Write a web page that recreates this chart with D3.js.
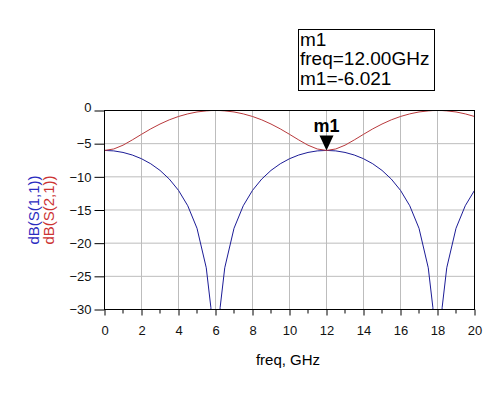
<!DOCTYPE html>
<html>
<head>
<meta charset="utf-8">
<script src="https://cdn.jsdelivr.net/npm/d3@7"></script>
<style>
  body { margin: 0; background: #fff; }
  svg { display: block; font-family: Arial, 'Liberation Sans', sans-serif; }
</style>
</head>
<body>
<script>
// frequency points, GHz
const freq = [0, 0.5, 1, 1.5, 2, 2.5, 3, 3.5, 4, 4.5, 5, 5.5, 5.75, 6, 6.25, 6.5, 7, 7.5, 8, 8.5, 9, 9.5, 10,
  10.5, 11, 11.5, 12, 12.5, 13, 13.5, 14, 14.5, 15, 15.5, 16, 16.5, 17, 17.5, 17.75, 18, 18.25, 18.5, 19, 19.5, 20]

// dB(S(1,1)) (the nulls drop well below the -30 floor)
const s11 = [-6.02, -6.09, -6.32, -6.71, -7.27, -8.03, -9.03, -10.33, -12.04, -14.36, -17.76, -23.71, -29.71, -45, -29.71,
  -23.71, -17.76, -14.36, -12.04, -10.33, -9.03, -8.03, -7.27, -6.71, -6.32, -6.09, -6.02, -6.09, -6.32, -6.71, -7.27,
  -8.03, -9.03, -10.33, -12.04, -14.36, -17.76, -23.71, -29.71, -45, -29.71, -23.71, -17.76, -14.36, -12.04]

// dB(S(2,1))
const s21 = [-6.02, -5.8, -5.23, -4.44, -3.59, -2.77, -2.04, -1.41, -0.9, -0.51, -0.22, -0.06, -0.01, 0, -0.01,
  -0.06, -0.22, -0.51, -0.9, -1.41, -2.04, -2.77, -3.59, -4.44, -5.23, -5.8, -6.02, -5.8, -5.23, -4.44, -3.59,
  -2.77, -2.04, -1.41, -0.9, -0.51, -0.22, -0.06, -0.01, 0, -0.01, -0.06, -0.22, -0.51, -0.9]

const xTicks = [0, 2, 4, 6, 8, 10, 12, 14, 16, 18, 20]
const xMinor = d3.range(1, 20, 2)
const yTicks = [0, -5, -10, -15, -20, -25, -30]

const marker = { name: 'm1', freq: 12, value: -6.021 }

const width = 500
const height = 394

const svg = d3.select('body').append('svg').attr('width', width).attr('height', height)

const x = d3.scaleLinear().domain([0, 20]).range([104.5, 474.5])
const y = d3.scaleLinear().domain([-30, 0]).range([309.5, 110.5])

// grid
svg.append('g')
	.selectAll('line')
	.data(xTicks.slice(1, -1))
	.enter()
	.append('line')
	.attr('x1', d => x(d)).attr('x2', d => x(d))
	.attr('y1', y(0)).attr('y2', y(-30))
	.attr('stroke', '#bdbdbd')
svg.append('g')
	.selectAll('line')
	.data(yTicks.slice(1, -1))
	.enter()
	.append('line')
	.attr('x1', x(0)).attr('x2', x(20))
	.attr('y1', d => y(d)).attr('y2', d => y(d))
	.attr('stroke', '#bdbdbd')

// curves, clipped to the plot box
svg.append('clipPath').attr('id', 'plot')
	.append('rect')
	.attr('x', x(0)).attr('y', y(0))
	.attr('width', x(20) - x(0)).attr('height', y(-30) - y(0))

const line = vals => d3.line()
	.x((d, i) => x(freq[i]))
	.y(d => y(d))(vals)

svg.append('path')
	.attr('d', line(s11))
	.attr('fill', 'none')
	.attr('stroke', '#1c1c96')
	.attr('clip-path', 'url(#plot)')
svg.append('path')
	.attr('d', line(s21))
	.attr('fill', 'none')
	.attr('stroke', '#b8393c')
	.attr('clip-path', 'url(#plot)')

// x axis
const xAxis = svg.append('g')
	.attr('transform', `translate(0,${y(-30)})`)
	.call(d3.axisBottom(x).tickValues(xTicks).tickSize(6).tickPadding(10).tickFormat(d3.format('d')))
xAxis.select('.domain').remove()
xAxis.selectAll('text').attr('font-size', 13).attr('font-family', 'Arial, Liberation Sans').attr('fill', '#111')
svg.append('g')
	.attr('transform', `translate(0,${y(-30)})`)
	.selectAll('line')
	.data(xMinor)
	.enter()
	.append('line')
	.attr('x1', d => x(d)).attr('x2', d => x(d))
	.attr('y1', 0).attr('y2', 4)
	.attr('stroke', '#000')

// y axis
const yAxis = svg.append('g')
	.attr('transform', `translate(${x(0)},0)`)
	.call(d3.axisLeft(y).tickValues(yTicks).tickSize(10).tickPadding(3).tickFormat(d3.format('d')))
yAxis.select('.domain').remove()
yAxis.selectAll('text').attr('font-size', 13).attr('font-family', 'Arial, Liberation Sans').attr('fill', '#111')
// the top label sits a little above its tick
yAxis.selectAll('.tick').filter(d => d === 0).select('text').attr('y', -3)

// plot frame
svg.append('rect')
	.attr('x', x(0)).attr('y', y(0))
	.attr('width', x(20) - x(0)).attr('height', y(-30) - y(0))
	.attr('fill', 'none')
	.attr('stroke', '#000')

// axis titles
svg.append('text')
	.attr('x', 288).attr('y', 365)
	.attr('text-anchor', 'middle')
	.attr('font-size', 15)
	.text('freq, GHz')
svg.append('text')
	.attr('transform', 'translate(39,210) rotate(-90)')
	.attr('text-anchor', 'middle')
	.attr('font-size', 15)
	.attr('fill', '#2b2bc0')
	.text('dB(S(1,1))')
svg.append('text')
	.attr('transform', 'translate(53.5,210) rotate(-90)')
	.attr('text-anchor', 'middle')
	.attr('font-size', 15)
	.attr('fill', '#cc3333')
	.text('dB(S(2,1))')

// marker
const mx = x(marker.freq)
const my = y(marker.value)
svg.append('path')
	.attr('d', `M${mx - 7},${my - 15}L${mx + 7},${my - 15}L${mx},${my}Z`)
	.attr('fill', '#000')
svg.append('text')
	.attr('x', mx).attr('y', my - 18)
	.attr('text-anchor', 'middle')
	.attr('font-size', 18)
	.attr('font-weight', 'bold')
	.text(marker.name)

// marker readout box
svg.append('rect')
	.attr('x', 298.5).attr('y', 29.5)
	.attr('width', 136).attr('height', 61)
	.attr('fill', '#fff')
	.attr('stroke', '#000')
const readout = [marker.name, `freq=${marker.freq.toFixed(2)}GHz`, `${marker.name}=${marker.value}`]
svg.append('g')
	.selectAll('text')
	.data(readout)
	.enter()
	.append('text')
	.attr('x', 300)
	.attr('y', (d, i) => 45.5 + i * 19.7)
	.attr('font-size', 19)
	.text(d => d)
</script>
</body>
</html>
